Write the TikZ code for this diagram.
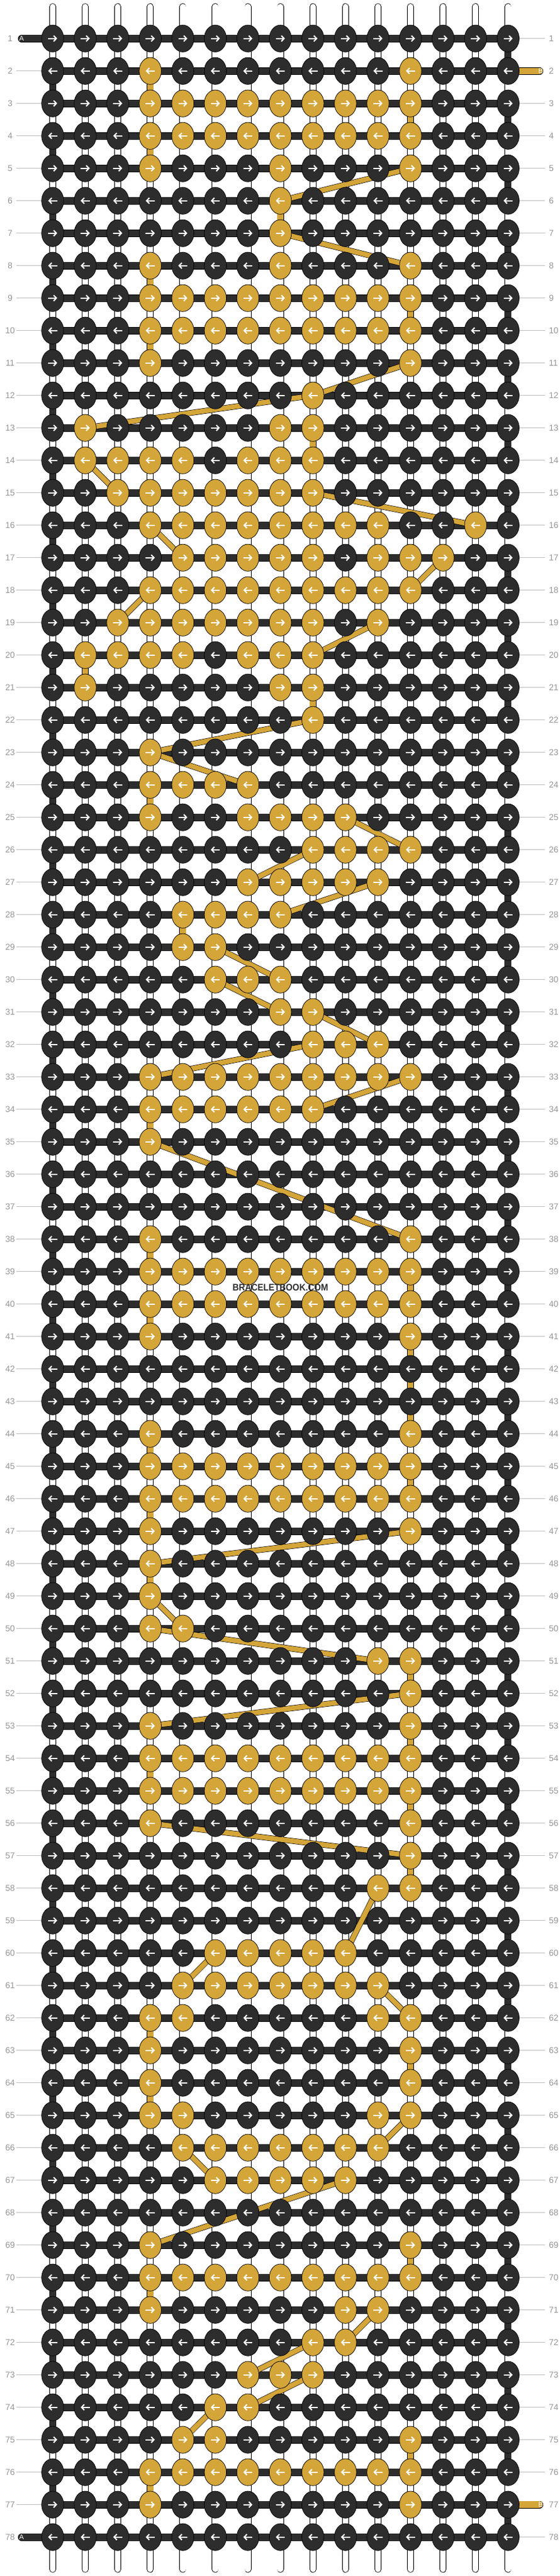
\documentclass[tikz,border=0pt]{standalone}
\usepackage{fontspec}
\setmainfont{Liberation Sans}
\usetikzlibrary{shapes.geometric,arrows.meta}

\definecolor{darkthread}{RGB}{45,45,45}
\definecolor{goldthread}{RGB}{212,165,56}
\definecolor{numbergray}{RGB}{150,150,150}
\definecolor{guidegray}{RGB}{192,192,192}

\pgfdeclarelayer{paper}
\pgfdeclarelayer{strings}
\pgfdeclarelayer{threads}
\pgfsetlayers{paper,strings,threads,main}

\makeatletter
\newcommand\setknotcolor[2]{%
  \edef\knot@test{\noexpand\in@{,#1,}{,#2,}}\knot@test
  \ifin@\def\knotcolor{goldthread}\else\def\knotcolor{darkthread}\fi}
\makeatother
\def\band{4,5,6,7,8,9,10,11,12}

\tikzset{
  knot/.style={ellipse,draw=black,line width=0.4pt,inner sep=0pt,
    minimum width=0.68cm,minimum height=0.83cm},
  knotarrow/.style={white,line width=1.1pt,-{Straight Barb[length=2.4pt,width=5pt]}},
  warp/.style={draw=black,line width=0.45pt,double=white,double distance=0.18cm,line cap=round},
  rowbar/.style={draw=black,line width=0.35pt,double=darkthread,double distance=0.2cm},
  goldbar/.style={draw=black,line width=0.35pt,double=goldthread,double distance=0.2cm},
  darkturn/.style={draw=black,line width=0.35pt,double=darkthread,double distance=0.19cm},
  goldturn/.style={draw=black,line width=0.35pt,double=goldthread,double distance=0.19cm},
  goldslant/.style={draw=black,line width=0.35pt,double=goldthread,double distance=0.15cm},
  guide/.style={guidegray,line width=0.8pt},
  rownum/.style={text=numbergray,font=\fontsize{7.5}{9}\selectfont,inner sep=0pt},
  endtag/.style={text=white,font=\fontsize{6}{7}\selectfont,inner sep=0pt},
}

\begin{document}
\begin{tikzpicture}[x=1cm,y=0.998cm,line join=round]
  \useasboundingbox (-0.62,0.187) rectangle (16.578,-79.2);
  \begin{pgfonlayer}{paper}
    \fill[white] (-0.62,0.187) rectangle (16.578,-79.2);
  \end{pgfonlayer}

  % knots (gold columns of each row)
  \foreach \r/\gold in {1/0,2/{4,12},3/\band,4/\band,5/{4,8,12},6/8,7/8,8/{4,8,12},
      9/\band,10/\band,11/{4,12},12/9,13/{2,8,9},14/{2,3,4,5,7,8,9},15/{3,4,5,6,7,8,9},
      16/{4,5,6,7,8,9,10,11,14},17/{5,6,7,8,9,11,12,13},18/\band,19/{3,4,5,6,7,8,9,11},
      20/{2,3,4,5,7,8,9},21/{2,8,9},22/9,23/4,24/{4,5,6,7},25/{4,7,8,9,10},
      26/{9,10,11,12},27/{7,8,9,10,11},28/{5,6,7,8},29/{5,6},30/{6,7,8},31/{8,9},
      32/{9,10,11},33/\band,34/{4,5,6,7,8,9},35/4,36/0,37/0,38/{4,12},39/\band,
      40/\band,41/{4,12},42/0,43/0,44/{4,12},45/\band,46/\band,47/{4,12},48/4,49/4,
      50/{4,5},51/{11,12},52/12,53/{4,12},54/\band,55/\band,56/{4,12},57/12,
      58/{11,12},59/0,60/{6,7,8,9,10},61/{5,6,7,8,9,10,11},62/{4,5,11,12},63/{4,12},
      64/{4,12},65/{4,5,11,12},66/{5,6,7,8,9,10,11},67/{6,7,8,9,10},68/0,69/{4,12},
      70/\band,71/{4,10,11},72/{9,10},73/{7,8,9},74/{6,7},75/{5,6,12},76/\band,
      77/{4,12},78/0} {
    \foreach \c in {1,...,15} {
      \setknotcolor{\c}{\gold}
      \node[knot,fill=\knotcolor] (k-\r-\c) at (\c,-\r) {};
    }
  }
  \foreach \r in {1,3,...,77}
    \foreach \c in {1,...,15}
      \draw[knotarrow] ([xshift=-0.14cm]k-\r-\c.center) -- ([xshift=0.14cm]k-\r-\c.center);
  \foreach \r in {2,4,...,78}
    \foreach \c in {1,...,15}
      \draw[knotarrow] ([xshift=0.14cm]k-\r-\c.center) -- ([xshift=-0.14cm]k-\r-\c.center);

  \begin{pgfonlayer}{strings}
    \foreach \c in {1,...,15} {
      \coordinate (top-\c) at (\c,-0.02);
      \coordinate (bot-\c) at (\c,-78.99);
      \draw[warp] (top-\c) -- (bot-\c);
    }
    \foreach \r in {2,...,77}
      \draw[guide] (k-\r-1.center) -- ++(-1.125,0);
    \foreach \r in {1,...,78} {
      \ifnum\r=2 \else\ifnum\r=77 \else
        \draw[guide] (k-\r-15.center) -- ++(1.137,0);
      \fi\fi
    }
  \end{pgfonlayer}

  \begin{pgfonlayer}{threads}
    \foreach \r in {1,...,78}
      \draw[rowbar] (k-\r-1.center) -- (k-\r-15.center);
    % turns at the edges
    \foreach \r [evaluate=\r as \s using int(\r+1)] in {1,3,...,77}
      \draw[darkturn] (k-\r-15.center) -- (k-\s-15.center);
    \foreach \r [evaluate=\r as \s using int(\r+1)] in {2,4,...,76}
      \draw[darkturn] (k-\r-1.center) -- (k-\s-1.center);
    % gold thread, straight down
    \foreach \r/\c [evaluate=\r as \s using int(\r+1)] in {2/4,3/12,4/4,6/8,8/4,9/12,
        10/4,13/9,20/2,21/9,24/4,28/5,34/4,38/4,39/12,40/4,41/12,42/12,43/12,44/4,
        45/12,46/4,48/4,51/12,53/12,54/4,55/12,57/12,62/4,63/12,64/4,69/12,70/4,
        75/12,76/4}
      \draw[goldturn] (k-\r-\c.center) -- (k-\s-\c.center);
    % gold thread, slanted
    \foreach \ra/\ca/\rb/\cb in {5/12/6/8,7/8/8/12,11/12/12/9,12/9/13/2,14/2/15/3,
        15/9/16/14,16/4/17/5,17/13/18/12,18/4/19/3,19/11/20/9,22/9/23/4,23/4/24/7,
        25/10/26/12,26/9/27/7,27/11/28/8,29/6/30/8,30/6/31/8,31/9/32/11,32/9/33/4,
        33/12/34/9,35/4/38/12,47/12/48/4,49/4/50/5,50/4/51/11,52/12/53/4,
        56/4/57/12,58/11/60/10,60/6/61/5,61/11/62/12,65/12/66/11,66/5/67/6,
        67/10/69/4,71/11/72/10,72/9/73/7,73/9/74/7,74/6/75/5}
      \draw[goldslant] (k-\ra-\ca.center) -- (k-\rb-\cb.center);
    % loose ends
    \foreach \r in {1,78}
      \draw[rowbar,line cap=round] (k-\r-1.center) -- ++(-0.957,0) node[endtag] (a-\r) {A};
    \foreach \r in {2,77}
      \draw[goldbar,line cap=round] (k-\r-15.center) -- ++(0.97,0) node[endtag,xshift=0.03cm] (b-\r) {B};
  \end{pgfonlayer}

  \foreach \r in {1,...,78} {
    \node[rownum] (ln-\r) at (-0.31,-\r) {\r};
    \node[rownum,anchor=west] (rn-\r) at (16.25,-\r) {\r};
  }
  \node[text=darkthread,font=\bfseries\fontsize{8.4}{10}\selectfont,xscale=0.9,inner sep=0pt]
    (mark) at (8,-39.5) {BRACELETBOOK.COM};
\end{tikzpicture}
\end{document}
